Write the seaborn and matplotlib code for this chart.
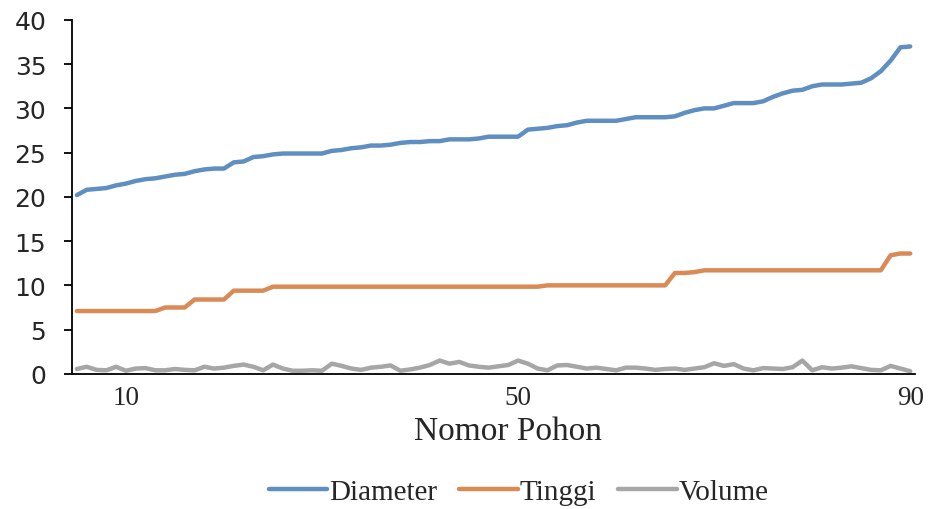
import numpy as np
import pandas as pd
import matplotlib
matplotlib.use("Agg")
import matplotlib.pyplot as plt
import seaborn as sns

# Tree numbers along the x axis
nomor_pohon = list(range(5, 91))

diameter = [
    20.2, 20.8, 20.9, 21.0, 21.3, 21.5, 21.8, 22.0, 22.1, 22.3,
    22.5, 22.6, 22.9, 23.1, 23.2, 23.2, 23.9, 24.0, 24.5, 24.6,
    24.8, 24.9, 24.9, 24.9, 24.9, 24.9, 25.2, 25.3, 25.5, 25.6,
    25.8, 25.8, 25.9, 26.1, 26.2, 26.2, 26.3, 26.3, 26.5, 26.5,
    26.5, 26.6, 26.8, 26.8, 26.8, 26.8, 27.6, 27.7, 27.8, 28.0,
    28.1, 28.4, 28.6, 28.6, 28.6, 28.6, 28.8, 29.0, 29.0, 29.0,
    29.0, 29.1, 29.5, 29.8, 30.0, 30.0, 30.3, 30.6, 30.6, 30.6,
    30.8, 31.3, 31.7, 32.0, 32.1, 32.5, 32.7, 32.7, 32.7, 32.8,
    32.9, 33.4, 34.2, 35.4, 36.9, 37.0,
]

tinggi = (
    [7.1] * 9 +          # 5-13
    [7.5] * 3 +          # 14-16
    [8.4] * 4 +          # 17-20
    [9.4] * 4 +          # 21-24
    [9.85] * 28 +        # 25-52
    [10.0] * 13 +        # 53-65
    [11.4, 11.4, 11.5] + # 66-68
    [11.7] * 19 +        # 69-87
    [13.4, 13.6, 13.6]   # 88-90
)

volume = [
    0.55, 0.80, 0.45, 0.40, 0.80, 0.35, 0.60, 0.65, 0.40, 0.40,
    0.55, 0.45, 0.40, 0.80, 0.60, 0.70, 0.90, 1.05, 0.80, 0.40,
    1.05, 0.60, 0.35, 0.35, 0.40, 0.35, 1.15, 0.90, 0.60, 0.45,
    0.70, 0.80, 0.95, 0.35, 0.50, 0.70, 1.00, 1.50, 1.15, 1.35,
    0.95, 0.80, 0.70, 0.85, 1.00, 1.50, 1.15, 0.60, 0.40, 0.95,
    1.00, 0.80, 0.60, 0.70, 0.55, 0.40, 0.70, 0.70, 0.60, 0.45,
    0.55, 0.60, 0.45, 0.60, 0.75, 1.20, 0.90, 1.10, 0.60, 0.40,
    0.65, 0.60, 0.55, 0.75, 1.50, 0.40, 0.75, 0.60, 0.70, 0.85,
    0.65, 0.45, 0.40, 0.90, 0.60, 0.30,
]

series_names = ["Diameter", "Tinggi", "Volume"]
series_colors = ["#5F8FC0", "#D98A55", "#A6A6A6"]
x_ticks = [10, 50, 90]
y_ticks = list(range(0, 45, 5))

df = pd.DataFrame({
    "Nomor Pohon": nomor_pohon * 3,
    "Nilai": diameter + tinggi + volume,
    "Seri": (["Diameter"] * len(nomor_pohon) + ["Tinggi"] * len(nomor_pohon)
             + ["Volume"] * len(nomor_pohon)),
})

sns.set_style("white")
plt.rcParams["font.family"] = ["Liberation Serif", "DejaVu Serif"]

fig = plt.figure(figsize=(9.3, 5.1), dpi=100)
ax = fig.add_axes([0.0774, 0.265, 0.9066, 0.694])

sns.lineplot(data=df, x="Nomor Pohon", y="Nilai", hue="Seri",
             hue_order=series_names, palette=series_colors,
             linewidth=3.2, ax=ax, legend=False)

ax.set_xlim(4.5, 90.5)
ax.set_ylim(0, 40)
ax.set_xticks(x_ticks)
ax.set_yticks(y_ticks)
ax.set_xticklabels([str(t) for t in x_ticks], fontsize=19.5,
                   family=["Liberation Serif"])
ax.set_yticklabels([str(t) for t in y_ticks], fontsize=18,
                   family=["DejaVu Sans"])
ax.set_ylabel("")
ax.set_xlabel("Nomor Pohon", fontsize=24, family=["Liberation Serif"],
              labelpad=4)
ax.xaxis.label.set_x(0.517)

for side in ["top", "right"]:
    ax.spines[side].set_visible(False)
for side in ["left", "bottom"]:
    ax.spines[side].set_color("black")
    ax.spines[side].set_linewidth(1.3)

ax.tick_params(axis="y", direction="out", length=5.5, width=1.3, color="black",
               left=True, pad=13)
ax.tick_params(axis="x", length=0, pad=8)

handles = [plt.Line2D([], [], color=c, linewidth=3.2) for c in series_colors]
fig.legend(handles, series_names, loc="center", bbox_to_anchor=(0.558, 0.033),
           ncol=3, frameon=False, handlelength=2.0,
           handletextpad=0.08, columnspacing=0.75,
           prop={"family": "Liberation Serif", "size": 21})

fig.savefig("out.png", dpi=100)
